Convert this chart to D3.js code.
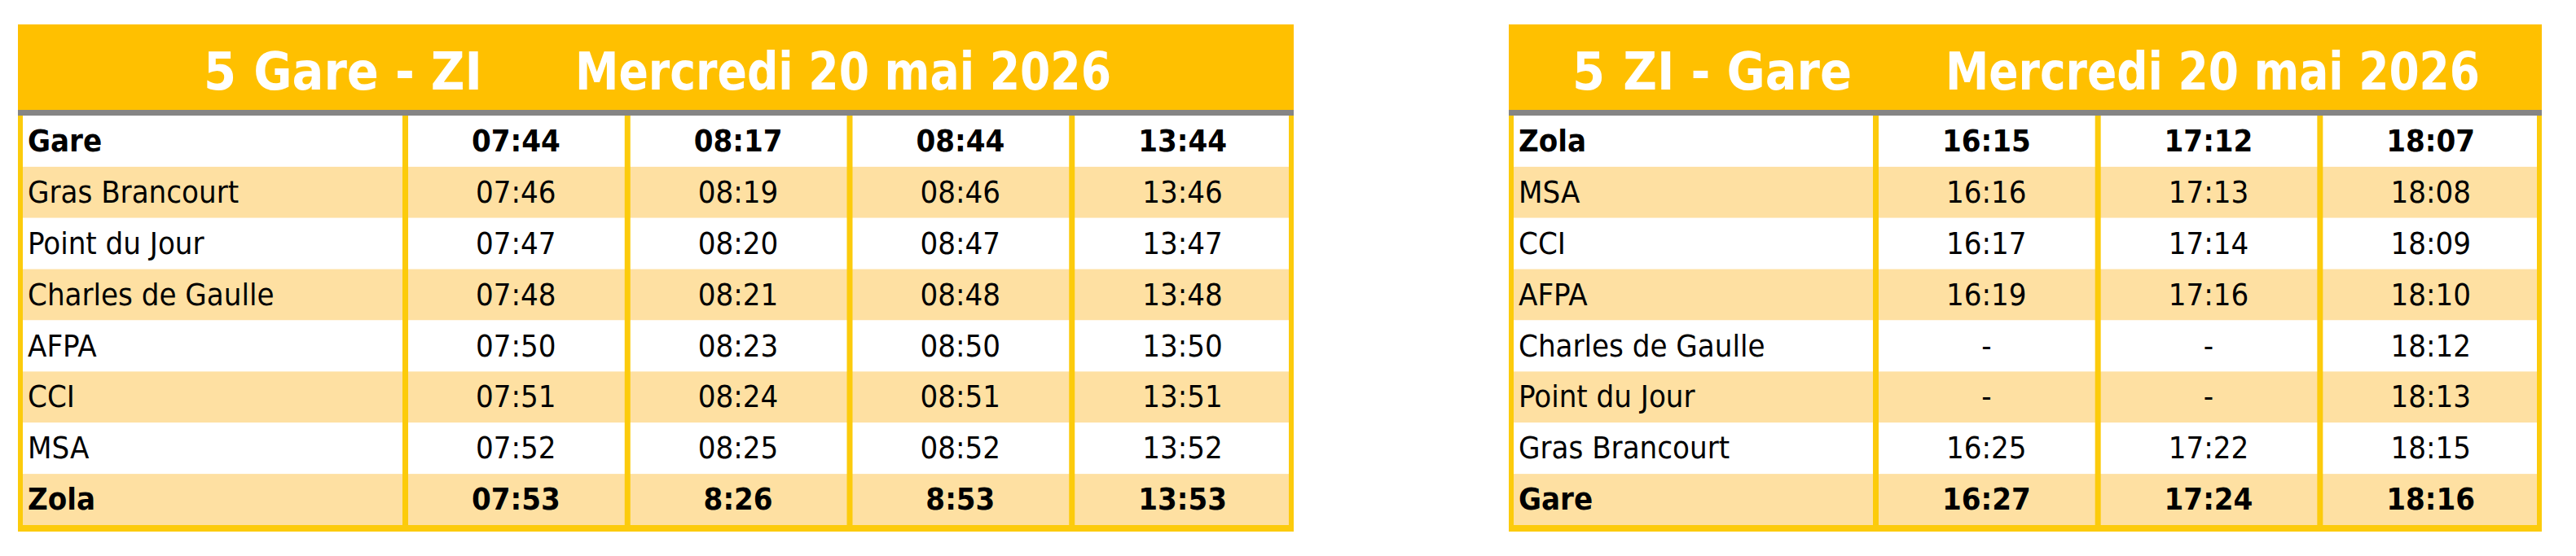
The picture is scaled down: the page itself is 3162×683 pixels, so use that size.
<!DOCTYPE html>
<html><head><meta charset="utf-8">
<script src="https://cdn.jsdelivr.net/npm/d3@7"></script>
<style>html,body{margin:0;padding:0;background:#fff;}svg{display:block;}</style>
</head><body>
<svg id="c" width="3162" height="683"></svg>
<script>
const lineNo = "5";
const dateLabel = "Mercredi 20 mai 2026";
const dirA = "Gare - ZI";
const stopsA = ["Gare","Gras Brancourt","Point du Jour","Charles de Gaulle","AFPA","CCI","MSA","Zola"];
const tripsA = [
  ["07:44","07:46","07:47","07:48","07:50","07:51","07:52","07:53"],
  ["08:17","08:19","08:20","08:21","08:23","08:24","08:25","8:26"],
  ["08:44","08:46","08:47","08:48","08:50","08:51","08:52","8:53"],
  ["13:44","13:46","13:47","13:48","13:50","13:51","13:52","13:53"]
];
const dirB = "ZI - Gare";
const stopsB = ["Zola","MSA","CCI","AFPA","Charles de Gaulle","Point du Jour","Gras Brancourt","Gare"];
const tripsB = [
  ["16:15","16:16","16:17","16:19","-","-","16:25","16:27"],
  ["17:12","17:13","17:14","17:16","-","-","17:22","17:24"],
  ["18:07","18:08","18:09","18:10","18:12","18:13","18:15","18:16"]
];

const svg = d3.select("#c");
const FONT = "'Liberation Sans Narrow','DejaVu Sans Condensed','Roboto Condensed',sans-serif";
const GOLD = "#FFC000", BORDER = "#FCCB0C", LIGHT = "#FEE0A2";

function table(cfg){
  const {x0,x1,firstW,stops,trips,dir,numX,dirEnd,dateX,dateEnd} = cfg;
  const g = svg.append("g");
  const top = 30, titleH = 105, grayH = 7, bodyTop = top+titleH+grayH, bodyBot = 645;
  const y = d3.scaleBand().domain(stops.map((d,i)=>i)).range([bodyTop, bodyBot]);
  const cols = ["name"].concat(trips.map((d,i)=>"t"+i));
  const xt = d3.scaleBand().domain(cols.slice(1)).range([x0+firstW, x1]);
  const colX = c => c==="name" ? x0 : xt(c);
  const colW = c => c==="name" ? firstW : xt.bandwidth();
  // title
  g.append("rect").attr("x",x0).attr("y",top).attr("width",x1-x0).attr("height",titleH).attr("fill",GOLD);
  g.append("rect").attr("x",x0).attr("y",top+titleH).attr("width",x1-x0).attr("height",grayH).attr("fill","#858585");
  const tt = g.append("g").attr("font-family",FONT).attr("font-weight","bold").attr("font-size",64).attr("fill","#fff");
  tt.append("text").attr("x",numX).attr("y",top+80).text(lineNo);
  tt.append("text").attr("x",dirEnd).attr("y",top+80).attr("text-anchor","end").text(dir).attr("textLength",null);
  tt.append("text").attr("x",dateX).attr("y",top+80).attr("textLength",dateEnd-dateX).attr("lengthAdjust","spacingAndGlyphs").text(dateLabel);
  // rows
  g.selectAll("rect.row").data(stops).join("rect").attr("class","row")
    .attr("x",x0).attr("y",(d,i)=>y(i)).attr("width",x1-x0).attr("height",y.bandwidth())
    .attr("fill",(d,i)=>i%2? LIGHT : "#fff");
  // text
  const last = stops.length-1;
  g.selectAll("text.stop").data(stops).join("text").attr("class","stop")
    .attr("x",x0+12).attr("y",(d,i)=>y(i)+y.bandwidth()*0.7)
    .attr("font-family",FONT).attr("font-size",38).attr("fill","#000")
    .attr("font-weight",(d,i)=>(i===0||i===last)?"bold":"normal").text(d=>d);
  trips.forEach((tr,j)=>{
    const c = "t"+j;
    g.selectAll("text.t"+j).data(tr).join("text").attr("class","t"+j)
      .attr("x",colX(c)+colW(c)/2).attr("y",(d,i)=>y(i)+y.bandwidth()*0.7)
      .attr("text-anchor","middle").attr("font-family",FONT).attr("font-size",38).attr("fill","#000")
      .attr("font-weight",(d,i)=>(i===0||i===last)?"bold":"normal").text(d=>d);
  });
  // borders
  cols.slice(1).forEach(c=>{
    g.append("rect").attr("x",colX(c)-3).attr("y",bodyTop).attr("width",7).attr("height",bodyBot-bodyTop).attr("fill",BORDER);
  });
  g.append("rect").attr("x",x0).attr("y",bodyTop).attr("width",6).attr("height",bodyBot-bodyTop).attr("fill",BORDER);
  g.append("rect").attr("x",x1-6).attr("y",bodyTop).attr("width",6).attr("height",bodyBot-bodyTop).attr("fill",BORDER);
  g.append("rect").attr("x",x0).attr("y",bodyBot).attr("width",x1-x0).attr("height",8).attr("fill",BORDER);
}

table({x0:22,x1:1588,firstW:475,stops:stopsA,trips:tripsA,dir:dirA,numX:250,dirEnd:592,dateX:706,dateEnd:1364});
table({x0:1852,x1:3120,firstW:450,stops:stopsB,trips:tripsB,dir:dirB,numX:1930,dirEnd:2273,dateX:2388,dateEnd:3044});
</script>
</body></html>
